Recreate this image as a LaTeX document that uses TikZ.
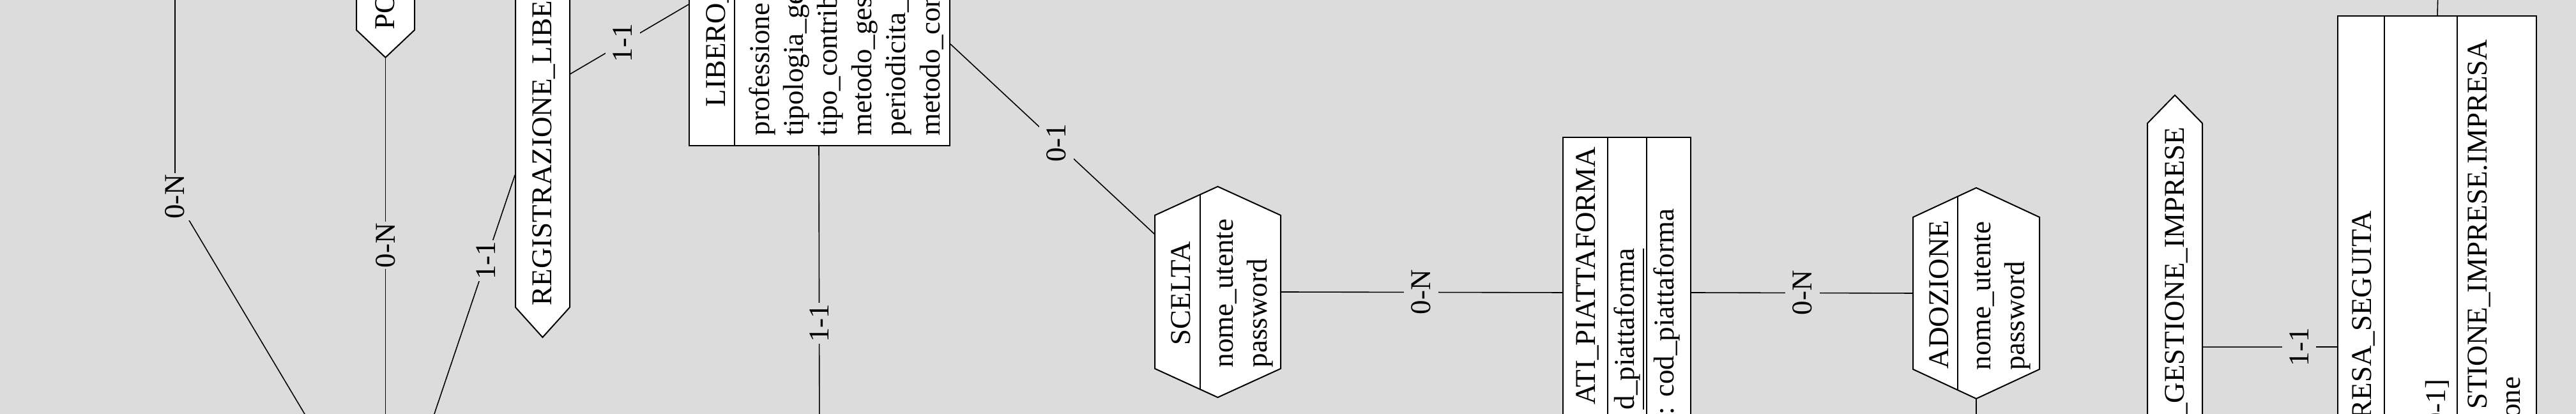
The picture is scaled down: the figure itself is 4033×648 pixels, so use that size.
\documentclass[tikz,border=0pt]{standalone}
\usepackage{fontspec}
\setmainfont{Liberation Serif}
\usetikzlibrary{calc,fit}
\definecolor{bg}{HTML}{DCDCDC}
\newcommand\diagfont{\fontsize{11.25pt}{13.5pt}\selectfont}
\tikzset{
  conn/.style={draw=black, line width=0.4pt},
  entity/.style={draw=black, fill=white, line width=0.5pt, inner sep=0pt},
  relbox/.style={inner sep=0pt},
  relshape/.style={draw=black, fill=white, line width=0.5pt},
  sepline/.style={draw=black, line width=0.5pt},
  card/.style={fill=bg, inner xsep=0.5pt, inner ysep=3pt, rotate=90, font=\diagfont},
  txt/.style={inner sep=0pt, rotate=90, font=\diagfont},
}
\begin{document}
\begin{tikzpicture}[x=0.25pt,y=-0.25pt]
\fill[bg] (0,0) rectangle (4033,648);
\useasboundingbox (0,0) rectangle (4033,648);
\clip (0,0) rectangle (4033,648);

% free ends outside the picture
\coordinate (c1top) at (274,-20);
\coordinate (c1bend) at (274,308);
\coordinate (c1bot) at (514,710);
\coordinate (c2bot) at (603.5,710);
\coordinate (c3bot) at (659,710);
\coordinate (c5bot) at (1283,710);
\coordinate (c10bot) at (3094,710);
\coordinate (c11top) at (3817,-20);

% relationship PO...
\draw[relshape] (558,-300) -- (558,47) -- (603.5,90) -- (649,47) -- (649,-300) -- cycle;
\node[relbox, fit={(558,-300) (649,90)}] (po) {};
% relationship REGISTRAZIONE_LIBE...
\draw[relshape] (807,-300) -- (807,481) -- (849.5,528) -- (892,481) -- (892,-300) -- cycle;
\node[relbox, fit={(807,-300) (892,528)}] (reg) {};
% entity LIBERO_...
\node[entity, fit={(1079,-400) (1487,228)}] (libero) {};
\draw[sepline] (1150,-400) -- (1150,228);
% relationship SCELTA
\draw[relshape] (1906.5,292) -- (2005,337) -- (2005,577) -- (1906.5,622) -- (1808,577) -- (1808,337) -- cycle;
\node[relbox, fit={(1808,292) (2005,622)}] (scelta) {};
\draw[sepline] (1879,304.6) -- (1879,609.4);
% entity DATI_PIATTAFORMA
\node[entity, fit={(2447,215) (2647,900)}] (piatt) {};
\draw[sepline] (2517,215) -- (2517,900);
\draw[sepline] (2578,215) -- (2578,900);
% relationship ADOZIONE
\draw[relshape] (3094,294) -- (3193,340) -- (3193,578) -- (3094,624) -- (2995,578) -- (2995,340) -- cycle;
\node[relbox, fit={(2995,294) (3193,624)}] (adoz) {};
\draw[sepline] (3065,307.5) -- (3065,610.5);
% relationship GESTIONE_IMPRESE
\draw[relshape] (3362,193) -- (3405,149) -- (3448,193) -- (3448,900) -- (3362,900) -- cycle;
\node[relbox, fit={(3362,149) (3448,900)}] (gest) {};
% entity IMPRESA_SEGUITA
\node[entity, fit={(3660,25) (3971,900)}] (impresa) {};
\draw[sepline] (3733,25) -- (3733,900);
\draw[sepline] (3847,25) -- (3847,900);

% connectors
\draw[conn] (c1top) -- (c1bend) -- (c1bot);
\node[card] (lab1) at (c1bend) {0-N};
\draw[conn] (po.south) -- (c2bot) node[card, pos=0.474] (lab2) {0-N};
\draw[conn] ($(reg.south west)+(0,-255)$) -- (c3bot) node[card, pos=0.307] (lab3) {1-1};
\draw[conn] ($(reg.south east)+(0,-413)$) -- ($(libero.south west)+(0,-222)$) node[card, pos=0.444] (lab4) {1-1};
\draw[conn] ($(libero.south west)+(204,0)$) -- (c5bot) node[card, pos=0.575] (lab5) {1-1};
\draw[conn] ($(libero.south east)+(0,-160)$) -- ($(scelta.north west)+(0,75)$) node[card, pos=0.52] (lab6) {0-1};
\draw[conn] (scelta.east) -- ($(piatt.north west)+(0,244)$) node[card, pos=0.498] (lab7) {0-N};
\draw[conn] ($(piatt.north east)+(0,244)$) -- (adoz.west) node[card, pos=0.503] (lab8) {0-N};
\draw[conn] (adoz.south) -- (c10bot);
\draw[conn] ($(gest.north east)+(0,395)$) -- ($(impresa.north west)+(0,519)$) node[card, pos=0.717] (lab9) {1-1};
\draw[conn] ($(impresa.north west)+(157,0)$) -- (c11top);

% texts
\node[txt, anchor=base west] (t-po) at (617,47) {PO};
\node[txt, anchor=base west] (t-reg) at (863,479) {REGISTRAZIONE\_LIBE};
\node[txt, anchor=base west] (t-lib) at (1135,168) {LIBERO\_};
\node[txt, anchor=base west] (a-lib1) at (1204,213) {professione};
\node[txt, anchor=base west] (a-lib2) at (1257.4,213) {tipologia\_ge};
\node[txt, anchor=base west] (a-lib3) at (1310.8,213) {tipo\_contrib};
\node[txt, anchor=base west] (a-lib4) at (1364.2,213) {metodo\_ges};
\node[txt, anchor=base west] (a-lib5) at (1417.6,213) {periodicita\_};
\node[txt, anchor=base west] (a-lib6) at (1471,213) {metodo\_con};
\node[txt, anchor=base] (t-sce) at (1863,459) {SCELTA};
\node[txt, anchor=base west] (a-sce1) at (1930,576) {nome\_utente};
\node[txt, anchor=base west] (a-sce2) at (1983,576) {password};
\node[txt, anchor=base east] (t-pia) at (2497,229) {ATI\_PIATTAFORMA};
\node[txt, anchor=base east] (a-pia1) at (2558,388) {\underline{d\_piattaforma}};
\node[txt, anchor=base east] (a-pia2) at (2620,326) {: cod\_piattaforma};
\node[txt, anchor=base] (t-ado) at (3050,461) {ADOZIONE};
\node[txt, anchor=base west] (a-ado1) at (3116,580) {nome\_utente};
\node[txt, anchor=base west] (a-ado2) at (3169,580) {password};
\node[txt, anchor=base east] (t-ges) at (3419,198) {\_GESTIONE\_IMPRESE};
\node[txt, anchor=base east] (t-imp) at (3712,329) {RESA\_SEGUITA};
\node[txt, anchor=base east] (a-imp1) at (3828,593) {0-1]};
\node[txt, anchor=base east] (a-imp2) at (3893,61) {STIONE\_IMPRESE.IMPRESA};
\node[txt, anchor=base east] (a-imp3) at (3945,589) {one};
\end{tikzpicture}
\end{document}
